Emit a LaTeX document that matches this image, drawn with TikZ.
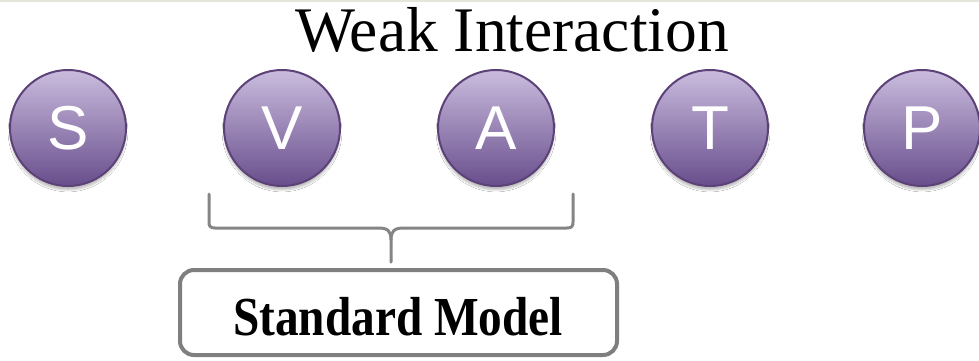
\documentclass[tikz,border=0pt]{standalone}
\usepackage{fontspec}
\setmainfont{Liberation Serif}
\setsansfont{Liberation Sans}
\usetikzlibrary{shadows.blur}
\definecolor{ballTop}{RGB}{202,188,222}
\definecolor{ballBot}{RGB}{104,78,140}
\definecolor{ballEdge}{RGB}{92,66,120}
\definecolor{braceGray}{RGB}{133,133,133}
\definecolor{boxGray}{RGB}{127,127,127}
\definecolor{topBand}{RGB}{228,230,220}
\tikzset{
  ball/.style={circle, minimum size=116pt, inner sep=0pt, draw=ballEdge, line width=2pt,
    top color=ballTop, bottom color=ballBot, text=white,
    font=\sffamily\fontsize{62}{62}\selectfont,
    blur shadow={shadow xshift=0pt, shadow yshift=-4pt, shadow blur steps=6, shadow opacity=25}},
  bracepath/.style={draw=braceGray, line width=3pt, line join=round, line cap=round},
  modelbox/.style={draw=boxGray, line width=4pt, rounded corners=14pt, fill=white,
    minimum width=437pt, minimum height=85pt, inner sep=0pt},
}
\begin{document}
\begin{tikzpicture}[x=1pt, y=-1pt]
  \useasboundingbox (0,0) rectangle (979,360);
  \fill[white] (0,0) rectangle (979,360);
  \fill[topBand] (0,0) rectangle (979,2);

  % title
  \node[font=\fontsize{63.5}{63.5}\selectfont, anchor=base] (title) at (512,51) {Weak Interaction};

  % the five couplings
  \node[ball] (S) at (68,128)  {S};
  \node[ball] (V) at (282,128) {V};
  \node[ball] (A) at (496,128) {A};
  \node[ball] (T) at (710,128) {T};
  \node[ball] (P) at (922,128) {P};

  % brace grouping V and A
  \coordinate (bl) at (209,194);
  \coordinate (br) at (573,194);
  \coordinate (tip) at (391,262);
  \draw[bracepath] (bl) -- (209,222) .. controls (209,226) and (210,228) .. (215,228)
    -- (378,228) .. controls (388,228) and (391,231) .. (391,240) -- (tip);
  \draw[bracepath] (br) -- (573,222) .. controls (573,226) and (572,228) .. (567,228)
    -- (404,228) .. controls (394,228) and (391,231) .. (391,240);

  % label box
  \node[modelbox] (sm) at (398.5,312.5) {};
  \node[font=\bfseries\fontsize{55}{55}\selectfont, xscale=0.86, anchor=base] (smtext) at (398,335) {Standard Model};
\end{tikzpicture}
\end{document}
